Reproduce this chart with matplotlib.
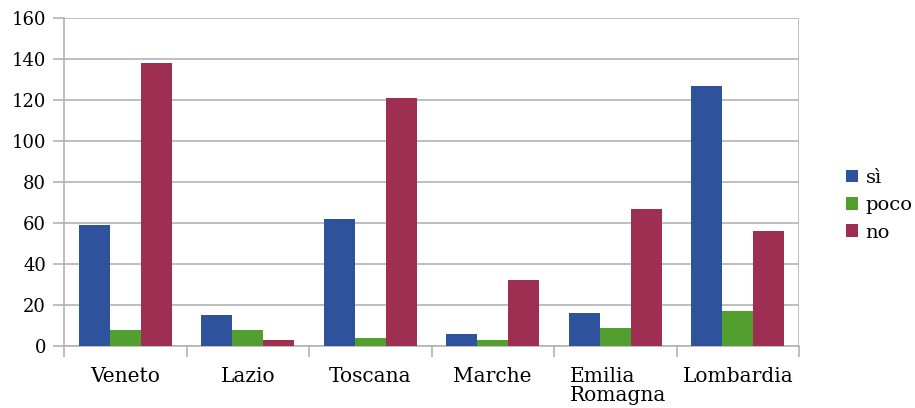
import matplotlib
matplotlib.use("Agg")
import matplotlib.pyplot as plt
import numpy as np
from matplotlib.patches import Patch

categories = ["Veneto", "Lazio", "Toscana", "Marche", "Emilia\nRomagna", "Lombardia"]
series_names = ["sì", "poco", "no"]
si = [59, 15, 62, 6, 16, 127]
poco = [8, 8, 4, 3, 9, 17]
no = [138, 3, 121, 32, 67, 56]
colors = ["#2e529c", "#529e2e", "#9e2e52"]
yticks = [0, 20, 40, 60, 80, 100, 120, 140, 160]

plt.rcParams["font.family"] = ["DejaVu Serif"]

fig = plt.figure(figsize=(9.15, 4.08), dpi=100)
ax = fig.add_axes([64 / 915, 1 - 346 / 408, 735 / 915, 328 / 408])

x = np.arange(len(categories))
bw = 0.252
for i, (vals, c) in enumerate(zip([si, poco, no], colors)):
    ax.bar(x + (i - 1) * bw, vals, width=bw, color=c, zorder=3)

ax.set_xlim(-0.5, len(categories) - 0.5)
ax.set_ylim(0, 160)
ax.set_yticks(yticks)
ax.set_yticklabels([str(v) for v in yticks], fontsize=13)
ax.yaxis.grid(True, color="#b3b3b3", linewidth=1.2, zorder=0)

grid_col = "#b3b3b3"
for s in ["top", "right"]:
    ax.spines[s].set_visible(False)
ax.spines["left"].set_color(grid_col)
ax.spines["bottom"].set_color(grid_col)
ax.spines["left"].set_linewidth(1.2)
ax.spines["bottom"].set_linewidth(1.2)
ax.axvline(len(categories) - 0.5, color=grid_col, linewidth=1.2, zorder=1)

ax.tick_params(axis="y", length=8, width=1.2, color=grid_col, pad=5)
# category boundary ticks on the x axis
ax.set_xticks(np.arange(len(categories) + 1) - 0.5)
ax.set_xticklabels([])
ax.tick_params(axis="x", length=8, width=1.2, color=grid_col)
for xi, lab in zip(x, categories):
    ax.text(xi + (0.02 if "\n" in lab else 0), -10, lab, ha="center", va="top",
            fontsize=14.5, multialignment="left", linespacing=1.05)

handles = [Patch(facecolor=c, edgecolor="none") for c in colors]
fig.legend(handles, series_names, loc="center left", bbox_to_anchor=(838 / 915, 0.5 - 0.003),
           frameon=False, fontsize=14, handlelength=0.62, handleheight=0.62,
           handletextpad=0.4, labelspacing=0.48, borderaxespad=0)

fig.savefig("out.png", dpi=100)
